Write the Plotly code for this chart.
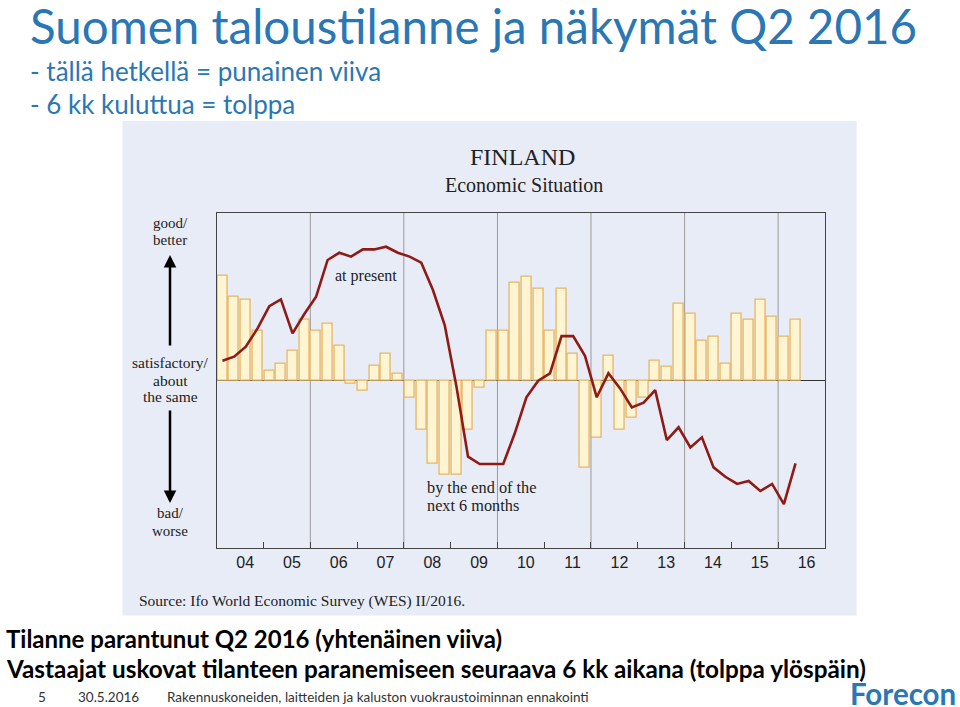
import plotly.graph_objects as go
import pandas as pd

W, H = 960, 707

# ---- data (relative units, zero = satisfactory/about the same) ----
years = list(range(2004, 2017))
quarters = [f"{y}Q{q}" for y in years for q in (1, 2, 3, 4)][:50]  # 2004Q1 .. 2016Q2

# bars: expectations by the end of the next 6 months
expectations = [
    62.2, 49.9, 48.3, 29.8,    # 2004
    6.0, 10.1, 17.9, 36.4,     # 2005
    29.8, 34.0, 20.5, -1.8,    # 2006
    -6.2, 8.5, 16.1, 4.2,      # 2007
    -10.1, -29.6, -49.9, -56.1,  # 2008
    -56.1, -29.6, -4.2, 29.8,  # 2009
    29.8, 58.4, 62.0, 54.5,    # 2010
    29.8, 54.5, 16.1, -51.9,   # 2011
    -34.2, 14.5, -29.6, -22.1,  # 2012
    -10.1, 11.7, 8.3, 45.9,    # 2013
    39.8, 23.9, 26.2, 10.1,    # 2014
    39.8, 36.4, 48.3, 38.2,    # 2015
    26.2, 36.4,                # 2016
]

# line: present situation
present = [
    11.7, 14.1, 20.1, 31.0,    # 2004
    44.3, 48.3, 28.0, 39.6,    # 2005
    49.9, 71.8, 76.1, 73.8,    # 2006
    78.1, 78.1, 79.7, 76.1,    # 2007
    73.8, 70.2, 53.9, 33.0,    # 2008
    -3.8, -45.5, -49.9, -49.9,  # 2009
    -49.9, -31.6, -10.1, -0.2,  # 2010
    4.2, 26.4, 26.4, 14.7,     # 2011
    -10.1, 4.2, -4.8, -16.1,   # 2012
    -13.3, -5.8, -35.6, -28.0,  # 2013
    -40.0, -34.0, -51.9, -57.5,  # 2014
    -61.8, -60.0, -66.0, -61.8,  # 2015
    -73.8, -49.5,              # 2016
]

grid_years = [2006, 2008, 2010, 2012, 2014, 2016]

# quarter centre dates
periods = pd.PeriodIndex(quarters, freq="Q")
x_dates = [p.start_time + pd.Timedelta(days=45) for p in periods]


def px(x):
    return x / W


def py(y):
    return 1 - y / H


BLUE = "#2A77B5"
SERIF = "Liberation Serif, Times New Roman, serif"
SANS = "Lato, Carlito, sans-serif"

fig = go.Figure()

fig.add_trace(go.Bar(
    x=x_dates, y=expectations,
    width=78 * 86400000,
    marker=dict(color="#FFF5D2", line=dict(color="#E6B566", width=1.3)),
    name="by the end of the next 6 months",
    showlegend=False,
))

fig.add_trace(go.Scatter(
    x=x_dates, y=present, mode="lines",
    line=dict(color="#8E1B16", width=2.6),
    name="at present", showlegend=False,
))

shapes = [
    # grey-blue chart panel
    dict(type="rect", xref="paper", yref="paper",
         x0=px(122.5), x1=px(856.7), y0=py(615.5), y1=py(121),
         fillcolor="#E8ECF6", line=dict(width=0), layer="below"),
]
for gy in grid_years:
    shapes.append(dict(type="line", xref="x", yref="paper",
                       x0=f"{gy}-01-01", x1=f"{gy}-01-01",
                       y0=py(548), y1=py(212.7),
                       line=dict(color="#9A9A9A", width=1), layer="below"))

ann = []


def text(x, y, s, size, color="black", font=SANS, xanchor="left", yanchor="middle", bold=False):
    if bold:
        s = f"<b>{s}</b>"
    ann.append(dict(x=px(x), y=py(y), xref="paper", yref="paper", text=s,
                    showarrow=False, xanchor=xanchor, yanchor=yanchor,
                    font=dict(family=font, size=size, color=color)))


# slide title and subtitles
text(28, 25, "Suomen taloustilanne ja näkymät Q2 2016", 47.5, BLUE)
text(28, 71, "- tällä hetkellä = punainen viiva", 26, BLUE)
text(28, 104, "- 6 kk kuluttua = tolppa", 26, BLUE)

# chart texts
text(522, 157, "FINLAND", 24, "#222", SERIF, xanchor="center")
text(524, 185, "Economic Situation", 20, "#222", SERIF, xanchor="center")
text(170, 223, "good/", 15, "#222", SERIF, xanchor="center")
text(170, 240, "better", 15, "#222", SERIF, xanchor="center")
text(170, 362, "satisfactory/", 15.5, "#222", SERIF, xanchor="center")
text(170, 380, "about", 15.5, "#222", SERIF, xanchor="center")
text(170, 397, "the same", 15.5, "#222", SERIF, xanchor="center")
text(170, 513, "bad/", 15, "#222", SERIF, xanchor="center")
text(170, 531, "worse", 15, "#222", SERIF, xanchor="center")
text(333, 276, "at present", 16, "#222", SERIF)
text(425, 487, "by the end of the", 16.3, "#222", SERIF)
text(425, 505, "next 6 months", 16.3, "#222", SERIF)
text(137, 601, "Source: Ifo World Economic Survey (WES) II/2016.", 15.5, "#222", SERIF)

# arrows
ann.append(dict(x=px(170), y=py(255), xref="paper", yref="paper", ax=0, ay=92,
                axref="pixel", ayref="pixel", text="", showarrow=True,
                arrowhead=2, arrowsize=1, arrowwidth=2.5, arrowcolor="black"))
ann.append(dict(x=px(170), y=py(503), xref="paper", yref="paper", ax=0, ay=-94,
                axref="pixel", ayref="pixel", text="", showarrow=True,
                arrowhead=2, arrowsize=1, arrowwidth=2.5, arrowcolor="black"))

# bottom texts
text(4, 638, "Tilanne parantunut Q2 2016 (yhtenäinen viiva)", 24, "black", bold=True)
text(4, 668, "Vastaajat uskovat tilanteen paranemiseen seuraava 6 kk aikana (tolppa ylöspäin)", 24.3, "black", bold=True)

# footer
text(36, 697, "5", 13.5, "#333")
text(76, 697, "30.5.2016", 13.5, "#333")
text(165, 697, "Rakennuskoneiden, laitteiden ja kaluston vuokraustoiminnan ennakointi", 13.5, "#333")
text(958, 693, "Forecon", 29.5, BLUE, xanchor="right", bold=True)

fig.update_layout(
    width=W, height=H,
    margin=dict(l=0, r=0, t=0, b=0),
    paper_bgcolor="white",
    plot_bgcolor="white",
    bargap=0,
    shapes=shapes,
    annotations=ann,
    xaxis=dict(
        domain=[px(216.7), px(825)],
        type="date",
        range=["2004-01-01", "2017-01-01"],
        dtick="M12", tick0="2004-01-01",
        ticklabelmode="period", tickformat="%y",
        ticklabelshift=5,
        ticks="inside", ticklen=6, tickcolor="#444",
        showgrid=False, zeroline=False,
        showline=True, mirror=True, linecolor="#444", linewidth=1,
        tickfont=dict(family="Liberation Sans, Arial, sans-serif", size=16, color="#222"),
        fixedrange=True,
    ),
    yaxis=dict(
        domain=[py(548), py(212.7)],
        range=[-100, 100],
        showticklabels=False, ticks="", showgrid=False,
        zeroline=True, zerolinecolor="#333", zerolinewidth=1.2,
        showline=True, mirror=True, linecolor="#444", linewidth=1,
        fixedrange=True,
    ),
)

fig.write_html(
    "out.html",
    config={"displayModeBar": False},
    post_script="document.body.style.margin='0';document.body.style.padding='0';",
)
